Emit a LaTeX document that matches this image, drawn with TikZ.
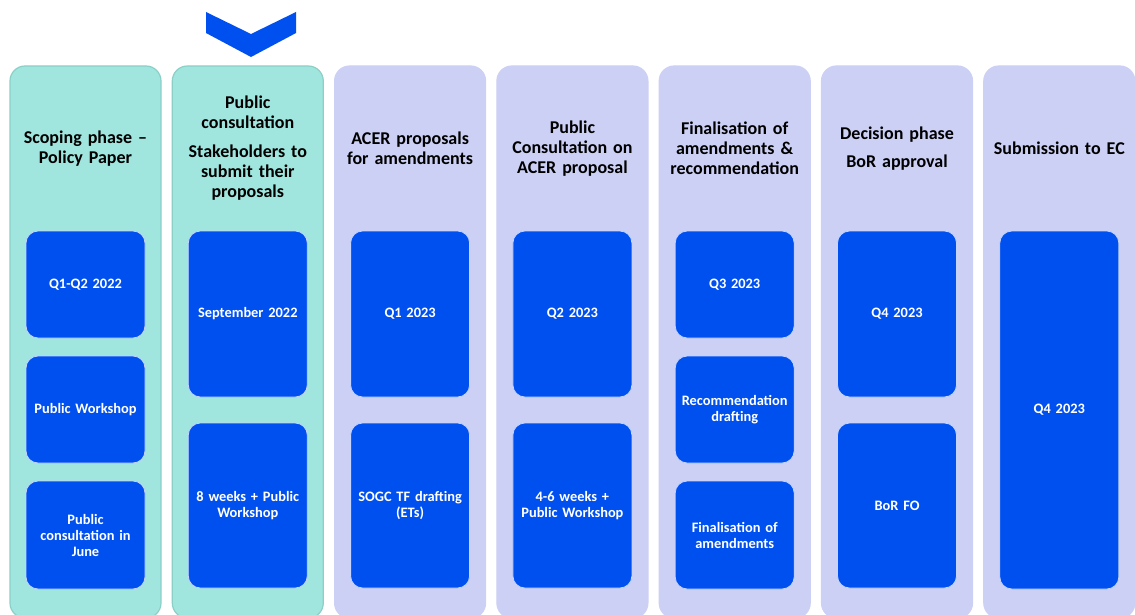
\documentclass[tikz,border=0pt]{standalone}
\usepackage{fontspec}
\setmainfont{Carlito}
\definecolor{greenfill}{HTML}{A0E6DF}
\definecolor{greenline}{HTML}{8CCFC7}
\definecolor{lilacfill}{HTML}{CCD0F5}
\definecolor{acerblue}{HTML}{0050EF}
\definecolor{slotline}{HTML}{C4D4FF}
\tikzstyle{stage}=[rectangle,rounded corners=15pt,minimum width=151pt,minimum height=552pt,inner sep=0pt]
\tikzstyle{title}=[text width=150pt,align=center,inner sep=0pt,font=\fontsize{18}{20}\selectfont\bfseries]
\tikzstyle{slot}=[rectangle,rounded corners=12pt,fill=acerblue,draw=slotline,line width=0.8pt,minimum width=119pt,text width=112pt,align=center,inner sep=0pt,text=white,font=\fontsize{14.4}{16}\selectfont\bfseries]

\begin{document}
\begin{tikzpicture}[x=1pt,y=-1pt]
		\useasboundingbox (0,0) rectangle (1135,615);
		\clip (0,0) rectangle (1135,615);
		% marker above the current phase
		\fill[acerblue] (206,12) -- (251,34) -- (296,12) -- (296,33) -- (251,57) -- (206,33) -- cycle;
		% the seven phases
		\foreach \i/\x/\fc/\lc in {1/85.5/greenfill/greenline, 2/247.8/greenfill/greenline, 3/410.1/lilacfill/lilacfill, 4/572.4/lilacfill/lilacfill, 5/734.7/lilacfill/lilacfill, 6/897/lilacfill/lilacfill, 7/1059.3/lilacfill/lilacfill}
			\node[stage,fill=\fc,draw=\lc,line width=1.2pt] (s\i) at (\x,342) {};
		% phase titles
		\foreach \i/\txt in {1/{Scoping phase –\\Policy Paper}, 2/{Public\\consultation\\[9pt]Stakeholders to\\submit their\\proposals}, 3/{ACER proposals\\for amendments}, 4/{Public\\Consultation on\\ACER proposal}, 5/{Finalisation of\\amendments \&\\recommendation}, 6/{Decision phase\\[8pt]BoR approval}, 7/{Submission to EC}}
			\node[title] (h\i) at (s\i.center |- 0,148.5) {\txt};
		% dates and steps
		\foreach \name/\i/\y/\h/\txt in {a1/1/284.5/107/{Q1-Q2 2022}, a2/1/409.5/107/{Public Workshop}, a3/1/535/108/{Public\\consultation in\\June},
			b1/2/314/166/{September 2022}, b2/2/505.5/165/{8 weeks + Public\\Workshop},
			c1/3/314/166/{Q1 2023}, c2/3/505.5/165/{SOGC TF drafting\\(ETs)},
			d1/4/314/166/{Q2 2023}, d2/4/505.5/165/{4-6 weeks +\\Public Workshop},
			e1/5/284.5/107/{Q3 2023}, e2/5/409.5/107/{Recommendation\\drafting}, e3/5/535/108/{Finalisation of\\amendments},
			f1/6/314/166/{Q4 2023}, f2/6/505.5/165/{BoR FO},
			g1/7/410/358/{Q4 2023}}
			\node[slot,minimum height=\h pt] (\name) at (s\i.center |- 0,\y) {\txt};
\end{tikzpicture}
\end{document}
